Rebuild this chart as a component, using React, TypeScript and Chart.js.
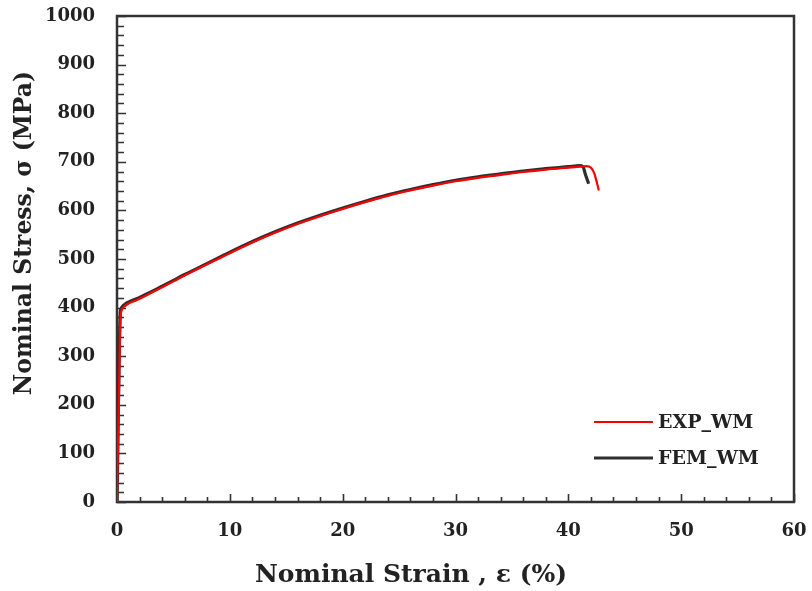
import React, { useEffect, useRef } from "react";
import { Chart, registerables } from "chart.js";

Chart.register(...registerables);

// ---- Data ----
const expStrain = [0, 0.2, 0.28, 0.33, 0.45, 0.7, 1.0, 1.5, 2, 3, 4, 5, 6, 8, 10, 12, 14, 16, 18, 20, 22, 24, 26, 28, 30, 32, 34, 36, 38, 40, 41, 41.6, 42.0, 42.3, 42.5, 42.7];
const expStress = [0, 250, 360, 385, 396, 403, 408, 413, 418, 430, 442, 454, 466, 489, 512, 534, 554, 572, 588, 603, 617, 630, 641, 651, 660, 667, 673, 679, 684, 688, 690, 691, 688, 676, 660, 641];

const femStrain = [0, 0.28, 0.35, 0.5, 0.7, 1.0, 1.5, 2, 3, 4, 5, 6, 8, 10, 12, 14, 16, 18, 20, 22, 24, 26, 28, 30, 32, 34, 36, 38, 40, 41, 41.3, 41.5, 41.8];
const femStress = [0, 385, 397, 403, 407, 411, 416, 421, 432, 444, 456, 468, 491, 514, 536, 556, 574, 590, 605, 619, 632, 643, 653, 662, 669, 675, 681, 686, 690, 692, 690, 675, 655];

const seriesLabels = ["EXP_WM", "FEM_WM"];
const seriesColors = ["#ff0000", "#2e2e2e"];

const xMin = 0, xMax = 60, xMajor = 10, xMinor = 2;
const yMin = 0, yMax = 1000, yMajor = 100, yMinor = 20;

const xTitle = "Nominal Strain , ε (%)";
const yTitle = "Nominal Stress, σ (MPa)";

const FONT = "'DejaVu Serif', 'Liberation Serif', serif";

const decorPlugin = {
  id: "decor",
  beforeDatasetsDraw(chart: any) {
    const { ctx, chartArea, scales } = chart;
    const { left, right, top, bottom } = chartArea;
    const x = scales.x, y = scales.y;
    ctx.save();
    ctx.strokeStyle = "#333";
    ctx.lineWidth = 1.6;
    ctx.beginPath();
    for (let v = xMin; v <= xMax + 1e-9; v += xMinor) {
      const px = Math.round(x.getPixelForValue(v)) + 0.5;
      const len = Math.abs(v % xMajor) < 1e-9 ? 8 : 5;
      ctx.moveTo(px, bottom);
      ctx.lineTo(px, bottom - len);
    }
    for (let v = yMin; v <= yMax + 1e-9; v += yMinor) {
      const py = Math.round(y.getPixelForValue(v)) + 0.5;
      const len = Math.abs(v % yMajor) < 1e-9 ? 9 : 7;
      ctx.moveTo(left, py);
      ctx.lineTo(left + len, py);
    }
    ctx.stroke();
    ctx.lineWidth = 2.5;
    ctx.strokeRect(left, top, right - left, bottom - top);
    ctx.restore();
  },
  afterDraw(chart: any) {
    const { ctx } = chart;
    ctx.save();
    ctx.fillStyle = "#222";
    ctx.textAlign = "center";
    ctx.textBaseline = "middle";
    ctx.font = `bold 25px ${FONT}`;
    ctx.fillText(xTitle, 411, 575);
    ctx.font = `bold 23.5px ${FONT}`;
    ctx.translate(25, 233);
    ctx.rotate(-Math.PI / 2);
    ctx.fillText(yTitle, 0, 0);
    ctx.restore();

    // legend
    ctx.save();
    const rows = [422, 458];
    chart.data.datasets.forEach((ds: any, i: number) => {
      const yy = rows[i];
      ctx.strokeStyle = ds.borderColor;
      ctx.lineWidth = i === 0 ? 2 : 3;
      ctx.beginPath();
      ctx.moveTo(594, yy);
      ctx.lineTo(653, yy);
      ctx.stroke();
      ctx.fillStyle = "#222";
      ctx.font = `bold 19px ${FONT}`;
      ctx.textAlign = "left";
      ctx.textBaseline = "middle";
      ctx.fillText(ds.label, 658, yy + 1);
    });
    ctx.restore();
  },
};

function zeroPad(scale: any) {
  scale.paddingTop = 0;
  scale.paddingBottom = 0;
  scale.paddingLeft = 0;
  scale.paddingRight = 0;
}

export default function App() {
  const ref = useRef<HTMLCanvasElement>(null);
  useEffect(() => {
    document.body.style.margin = "0";
    const canvas = ref.current!;
    const chart = new Chart(canvas, {
      type: "line",
      data: {
        datasets: [
          {
            label: seriesLabels[0],
            data: expStrain.map((s, i) => ({ x: s, y: expStress[i] })),
            borderColor: seriesColors[0],
            borderWidth: 2.2,
            pointRadius: 0,
            cubicInterpolationMode: "monotone",
            fill: false,
          },
          {
            label: seriesLabels[1],
            data: femStrain.map((s, i) => ({ x: s, y: femStress[i] })),
            borderColor: seriesColors[1],
            borderWidth: 3.2,
            pointRadius: 0,
            cubicInterpolationMode: "monotone",
            fill: false,
          },
        ],
      },
      options: {
        responsive: false,
        animation: false,
        devicePixelRatio: 1,
        layout: { padding: { top: 16, right: 18, left: 0, bottom: 0 } },
        plugins: { legend: { display: false }, tooltip: { enabled: false } },
        scales: {
          x: {
            type: "linear",
            min: xMin,
            max: xMax,
            grid: { display: false, drawTicks: false },
            border: { display: false },
            ticks: {
              stepSize: xMajor,
              padding: 19,
              color: "#222",
              font: { family: FONT, size: 18, weight: "bold" },
              maxRotation: 0,
              callback: (v: any) => String(v),
            },
            afterFit(scale: any) {
              scale.height = 89;
              zeroPad(scale);
            },
          },
          y: {
            type: "linear",
            min: yMin,
            max: yMax,
            grid: { display: false, drawTicks: false },
            border: { display: false },
            ticks: {
              stepSize: yMajor,
              padding: 22,
              color: "#222",
              font: { family: FONT, size: 18, weight: "bold" },
              callback: (v: any) => String(v),
            },
            afterFit(scale: any) {
              scale.width = 117;
              zeroPad(scale);
            },
          },
        },
      } as any,
      plugins: [decorPlugin],
    });
    return () => chart.destroy();
  }, []);
  return (
    <div style={{ position: "absolute", left: 0, top: 0, width: 812, height: 591, background: "#fff" }}>
      <canvas ref={ref} width={812} height={591} style={{ width: 812, height: 591, display: "block" }} />
    </div>
  );
}
